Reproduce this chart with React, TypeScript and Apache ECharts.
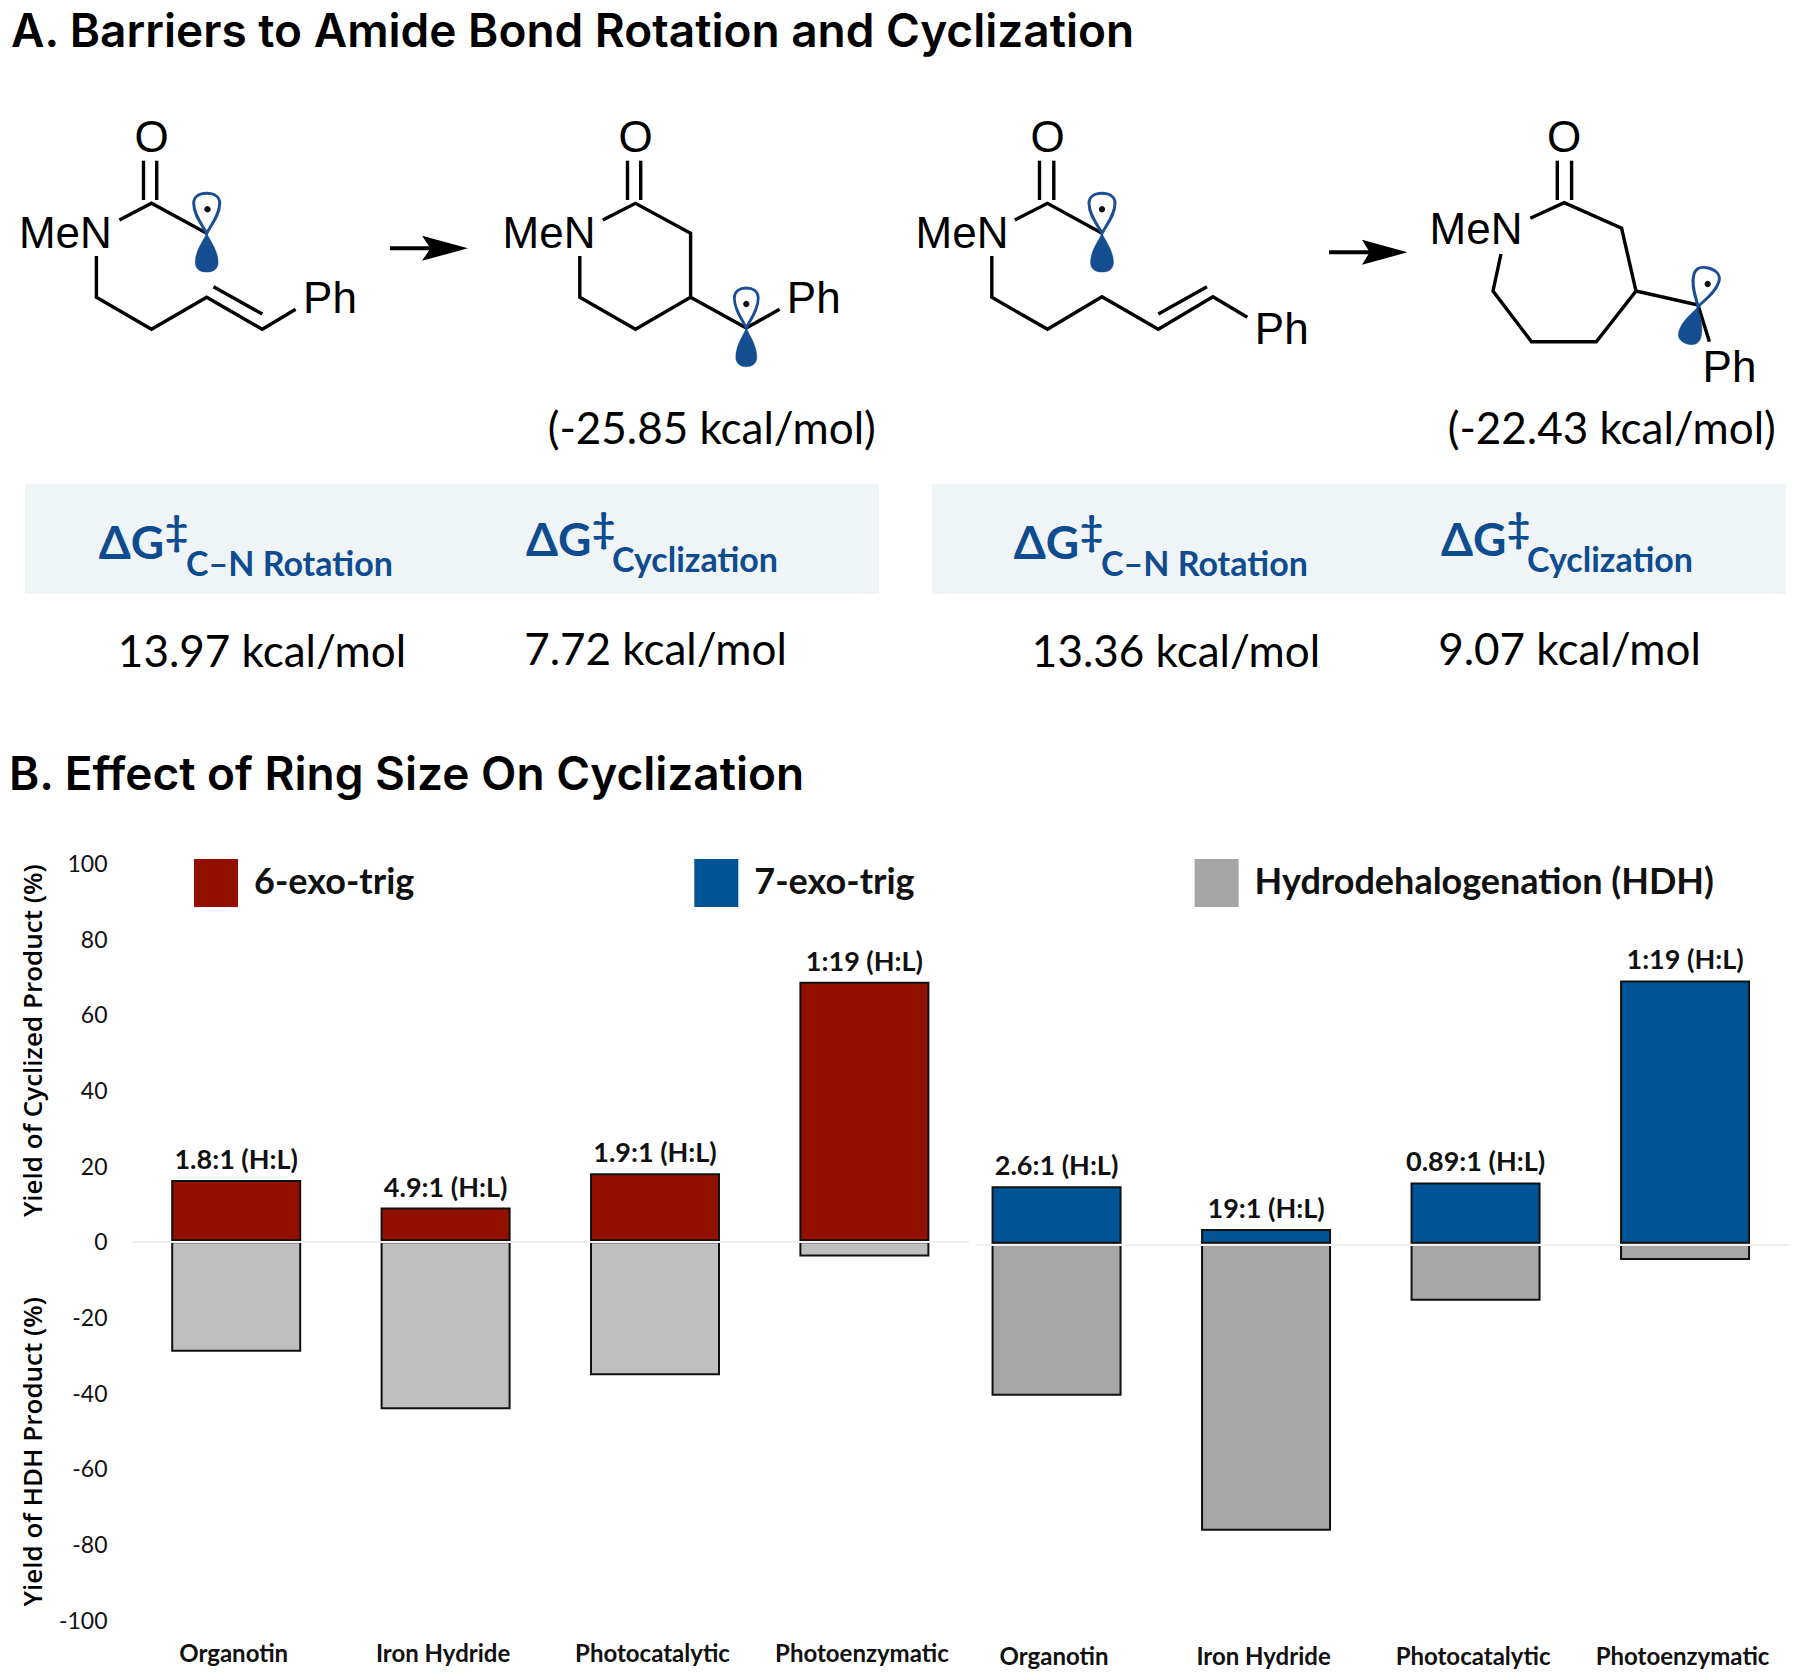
import React, { useEffect, useRef } from "react";
import * as echarts from "echarts";

const categories = ["Organotin", "Iron Hydride", "Photocatalytic", "Photoenzymatic"];
const yTicksMin = -100;
const yTicksMax = 100;
const yTickStep = 20;

const sixExoTrig = [16.2, 8.9, 18.0, 68.6];
const sixExoHdh = [-29.2, -44.4, -35.4, -4.0];
const sixExoRatios = ["1.8:1 (H:L)", "4.9:1 (H:L)", "1.9:1 (H:L)", "1:19 (H:L)"];

const sevenExoTrig = [15.2, 3.9, 16.2, 69.6];
const sevenExoHdh = [-40.2, -75.9, -15.1, -4.3];
const sevenExoRatios = ["2.6:1 (H:L)", "19:1 (H:L)", "0.89:1 (H:L)", "1:19 (H:L)"];

const SERIES_6 = "6-exo-trig";
const SERIES_7 = "7-exo-trig";
const SERIES_HDH = "Hydrodehalogenation (HDH)";

const SANS = "Lato, 'Noto Sans', sans-serif";
const OPEN = "'Open Sans', Lato, sans-serif";
const INTER = "Inter, 'Open Sans', sans-serif";
const ARIAL = "'Liberation Sans', Arial, sans-serif";
const NAVY = "#0f4c8f";
const LOBE = "#154e90";

const LOBE_PATH =
  "M0 0 C-4 -8 -13 -18 -13 -30 C-13 -37 -7 -40 0 -40 C7 -40 13 -37 13 -30 C13 -18 4 -8 0 0 Z";

const line = (points: number[][], lineWidth = 3.4) => ({
  type: "polyline",
  silent: true,
  shape: { points },
  style: { stroke: "#000", lineWidth, fill: "none", lineJoin: "miter" },
});

const text = (
  x: number,
  y: number,
  content: string,
  fontSize: number,
  opts: any = {},
) => ({
  type: "text",
  silent: true,
  x,
  y,
  rotation: opts.rotation ?? 0,
  style: {
    text: content,
    fontSize,
    fontFamily: opts.fontFamily ?? SANS,
    fontWeight: opts.fontWeight ?? "normal",
    fill: opts.fill ?? "#000",
    align: opts.align ?? "center",
    verticalAlign: "middle",
  },
});

const orbital = (x: number, y: number, dotX: number, dotY: number, rotation = 0, sx = 1) => [
  {
    type: "lobe",
    silent: true,
    x,
    y,
    rotation,
    scaleX: sx,
    style: { fill: "#fff", stroke: "#1c4e96", lineWidth: 3 },
  },
  {
    type: "lobe",
    silent: true,
    x,
    y,
    rotation: rotation + Math.PI,
    scaleX: sx * 0.88,
    scaleY: 0.97,
    style: { fill: LOBE, stroke: LOBE, lineWidth: 0.5 },
  },
  {
    type: "circle",
    silent: true,
    shape: { cx: dotX, cy: dotY, r: 3.2 },
    style: { fill: "#111" },
  },
];

const arrow = (x0: number, backX: number, notchX: number, tip: number, y: number) => [
  line([[x0, y], [notchX + 2, y]], 4),
  {
    type: "polygon",
    silent: true,
    shape: { points: [[tip, y], [backX, y - 12.5], [notchX, y], [backX, y + 12.5]] },
    style: { fill: "#000" },
  },
];

const panel = (x: number, dx: number) => [
  {
    type: "rect",
    silent: true,
    z: -1,
    shape: { x, y: 484, width: 854, height: 110 },
    style: { fill: "#eff4f7" },
  },
  text(98.7 + dx, 541, "ΔG", 46, { align: "left", fill: NAVY, fontWeight: "bold" }),
  text(165 + dx, 530, "‡", 40, { align: "left", fill: NAVY, fontWeight: "bold" }),
  text(186 + dx, 562, "C–N Rotation", 34, { align: "left", fill: NAVY, fontWeight: "bold" }),
  text(526 + dx, 538, "ΔG", 46, { align: "left", fill: NAVY, fontWeight: "bold" }),
  text(592 + dx, 527, "‡", 40, { align: "left", fill: NAVY, fontWeight: "bold" }),
  text(612 + dx, 558, "Cyclization", 34, { align: "left", fill: NAVY, fontWeight: "bold" }),
];

const structures: any[] = [
  // substrate, 6-exo
  text(151.5, 136.7, "O", 44, { fontFamily: ARIAL }),
  line([[143.5, 160.7], [143.5, 200]]),
  line([[156.7, 160.7], [156.7, 200]]),
  line([[119.4, 220], [151.5, 203.3], [206.7, 233.3]]),
  text(65.4, 232, "MeN", 44, { fontFamily: ARIAL }),
  line([[96.4, 256], [96.4, 297.3], [151.5, 329.3], [206.7, 297.3], [262.3, 329.3], [295.6, 309.3]]),
  line([[213.5, 286.7], [262.3, 314]]),
  text(330, 297, "Ph", 44, { fontFamily: ARIAL }),
  ...orbital(206.7, 233.3, 207.5, 209.3),
  ...arrow(390, 422, 430.5, 468, 248.3),
  // product, 6-exo
  text(635.5, 136.7, "O", 44, { fontFamily: ARIAL }),
  line([[627.5, 160.7], [627.5, 200]]),
  line([[640.7, 160.7], [640.7, 200]]),
  line([[602.8, 220], [635.5, 203.3], [690.6, 233.3], [690.6, 297.3], [635.5, 329.3], [579.8, 297.3], [579.8, 256]]),
  line([[690.6, 297.3], [746.3, 328], [779.6, 309.3]]),
  text(549, 232, "MeN", 44, { fontFamily: ARIAL }),
  text(813.7, 297, "Ph", 44, { fontFamily: ARIAL }),
  ...orbital(746.3, 328, 746.3, 304, 0, 0.92),
  text(711.7, 426.7, "(-25.85 kcal/mol)", 44),
  // substrate, 7-exo
  text(1047.5, 136.7, "O", 44, { fontFamily: ARIAL }),
  line([[1039.5, 160.7], [1039.5, 200]]),
  line([[1053.8, 160.7], [1053.8, 200]]),
  line([[1014.8, 220], [1047.5, 203.3], [1102, 233.3]]),
  text(962, 232, "MeN", 44, { fontFamily: ARIAL }),
  line([[991.8, 256], [991.8, 297.3], [1047.5, 329.3], [1102, 296.7], [1158.3, 329.3], [1212.9, 296.7], [1247.3, 317.3]]),
  line([[1158.3, 314], [1207, 286.7]]),
  text(1281.7, 328.3, "Ph", 44, { fontFamily: ARIAL }),
  ...orbital(1102, 233.3, 1102, 209.3),
  ...arrow(1329, 1362, 1369.6, 1407.5, 252.3),
  // product, 7-exo
  text(1564, 136.7, "O", 44, { fontFamily: ARIAL }),
  line([[1557.3, 160.7], [1557.3, 200]]),
  line([[1571.6, 160.7], [1571.6, 200]]),
  line([[1530.3, 218.3], [1564.2, 202.7], [1621.6, 228.3], [1636, 291], [1596.3, 341.7], [1531.5, 341.7], [1493, 291], [1501, 254]]),
  line([[1636, 291], [1698, 305], [1709.4, 341.7]]),
  text(1476, 228.3, "MeN", 44, { fontFamily: ARIAL }),
  text(1729.5, 366.7, "Ph", 44, { fontFamily: ARIAL }),
  ...orbital(1698, 306.7, 1707.7, 284, -0.285),
  text(1611.7, 426.7, "(-22.43 kcal/mol)", 44),
];

const energies: any[] = [
  ...panel(25, 0),
  ...panel(932, 915),
  text(262, 650, "13.97 kcal/mol", 44),
  text(655.5, 648, "7.72 kcal/mol", 44),
  text(1176, 650, "13.36 kcal/mol", 44),
  text(1569.5, 648, "9.07 kcal/mol", 44),
];

const headings: any[] = [
  text(11, 29.5, "A. Barriers to Amide Bond Rotation and Cyclization", 46, { align: "left", fontWeight: 600, fontFamily: INTER }),
  text(9, 773, "B. Effect of Ring Size On Cyclization", 46, { align: "left", fontWeight: 600, fontFamily: INTER }),
  text(32, 1040.7, "Yield of Cyclized Product (%)", 26, { rotation: Math.PI / 2, fontWeight: 600, fontFamily: OPEN }),
  text(32, 1451.7, "Yield of HDH Product (%)", 26, { rotation: Math.PI / 2, fontWeight: 600, fontFamily: OPEN }),
];

const barBorder = { borderColor: "#111", borderWidth: 2 };

const ratioLabel = (ratios: string[]) => ({
  show: true,
  position: "top",
  distance: 8,
  formatter: (p: any) => ratios[p.dataIndex],
  fontFamily: SANS,
  fontWeight: "bold",
  fontSize: 27,
  color: "#111",
});

const baseline = {
  symbol: "none",
  silent: true,
  label: { show: false },
  lineStyle: { color: "#efefef", width: 2, type: "solid" },
};

const xAxisFor = (gridIndex: number) => ({
  type: "category",
  gridIndex,
  data: categories,
  position: "bottom",
  axisLine: { show: false, onZero: false },
  axisTick: { show: false },
  axisLabel: {
    margin: 21,
    fontFamily: SANS,
    fontSize: 24,
    fontWeight: "bold",
    color: "#111",
    interval: 0,
    padding: [0, 5, 0, 0],
  },
});

const yAxisFor = (gridIndex: number, show: boolean) => ({
  type: "value",
  gridIndex,
  show,
  min: yTicksMin,
  max: yTicksMax,
  interval: yTickStep,
  axisLine: { show: false },
  axisTick: { show: false },
  splitLine: { show: false },
  axisLabel: {
    margin: 24,
    fontFamily: SANS,
    fontSize: 23,
    color: "#111",
    fontWeight: "normal",
    padding: [0, 0, 2, 0],
  },
});

export default function App() {
  const ref = useRef<HTMLDivElement>(null);

  useEffect(() => {
    echarts.graphic.registerShape("lobe", echarts.graphic.extendPath(LOBE_PATH, {}));
    const chart = echarts.init(ref.current!, null, { renderer: "svg" });
    chart.setOption({
      animation: false,
      backgroundColor: "#fff",
      grid: [
        { left: 131.5, width: 837.6, top: 863, height: 756.5 },
        { left: 951.8, width: 838, top: 865.5, height: 756.5 },
      ],
      xAxis: [xAxisFor(0), xAxisFor(1)],
      yAxis: [yAxisFor(0, true), yAxisFor(1, false)],
      legend: {
        left: 194,
        top: 859,
        padding: 0,
        itemWidth: 44,
        itemHeight: 48,
        itemGap: 280,
        selectedMode: false,
        itemStyle: { borderWidth: 0 },
        formatter: "{t|{name}}",
        textStyle: {
          rich: {
            t: {
              fontFamily: SANS,
              fontSize: 36,
              fontWeight: "bold",
              color: "#111",
              padding: [0, 0, 7, 11],
            },
          },
        },
        data: [
          { name: SERIES_6, icon: "rect", itemStyle: { color: "#931000", borderWidth: 0 } },
          { name: SERIES_7, icon: "rect", itemStyle: { color: "#005496", borderWidth: 0 } },
          { name: SERIES_HDH, icon: "rect", itemStyle: { color: "#a5a5a5", borderWidth: 0 } },
        ],
      },
      series: [
        {
          name: "baseline-left",
          type: "line",
          xAxisIndex: 0,
          yAxisIndex: 0,
          data: [],
          z: 1,
          markLine: { ...baseline, data: [{ yAxis: 0 }] },
        },
        {
          name: "baseline-right",
          type: "line",
          xAxisIndex: 1,
          yAxisIndex: 1,
          data: [],
          z: 1,
          markLine: { ...baseline, data: [[{ x: 977, y: 1244.3 }, { x: 1790, y: 1244.3 }]] },
        },
        {
          name: SERIES_HDH,
          type: "bar",
          xAxisIndex: 0,
          yAxisIndex: 0,
          data: sixExoHdh,
          stack: "a",
          barWidth: 130,
          z: 3,
          itemStyle: { color: "#bfbfbf", ...barBorder },
        },
        {
          name: SERIES_6,
          type: "bar",
          xAxisIndex: 0,
          yAxisIndex: 0,
          data: sixExoTrig,
          stack: "a",
          barWidth: 130,
          z: 3,
          itemStyle: { color: "#931000", ...barBorder },
          label: ratioLabel(sixExoRatios),
        },
        {
          name: SERIES_HDH,
          type: "bar",
          xAxisIndex: 1,
          yAxisIndex: 1,
          data: sevenExoHdh,
          stack: "b",
          barWidth: 130,
          z: 3,
          itemStyle: { color: "#a6a6a6", ...barBorder },
        },
        {
          name: SERIES_7,
          type: "bar",
          xAxisIndex: 1,
          yAxisIndex: 1,
          data: sevenExoTrig,
          stack: "b",
          barWidth: 130,
          z: 3,
          itemStyle: { color: "#005496", ...barBorder },
          label: ratioLabel(sevenExoRatios),
        },
      ],
      graphic: { elements: [...energies, ...structures, ...headings] },
    });
    return () => chart.dispose();
  }, []);

  return (
    <div
      ref={ref}
      style={{ position: "absolute", left: 0, top: 0, width: 1800, height: 1679, background: "#fff" }}
    />
  );
}
